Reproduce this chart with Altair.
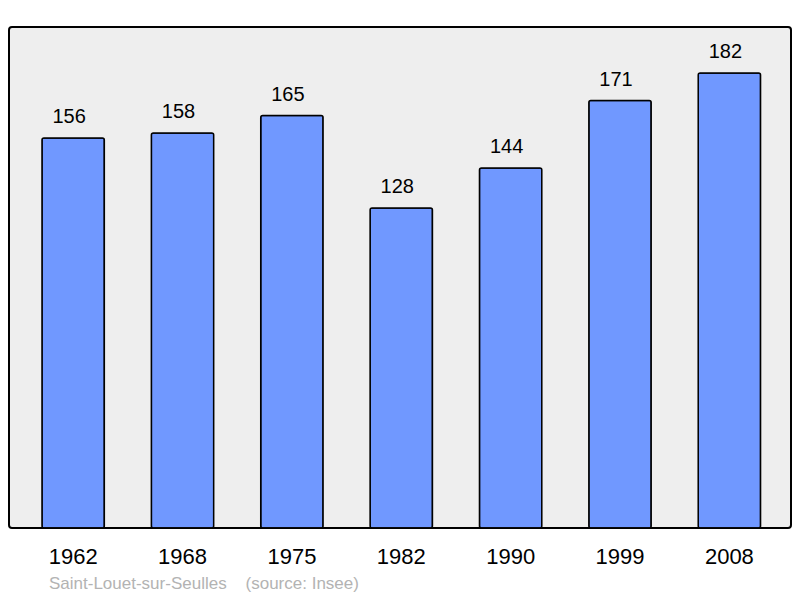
import altair as alt
import pandas as pd

years = ["1962", "1968", "1975", "1982", "1990", "1999", "2008"]
population = [156, 158, 165, 128, 144, 171, 182]
footer = "Saint-Louet-sur-Seulles\u00a0\u00a0\u00a0\u00a0(source: Insee)"

df = pd.DataFrame({"year": years, "pop": population})

FONT = "Liberation Sans"

x = alt.X(
    "year:N",
    sort=years,
    scale=alt.Scale(paddingInner=0.43, paddingOuter=0.29, align=0.52),
    axis=alt.Axis(
        title=None,
        labelAngle=0,
        domain=False,
        ticks=False,
        labelFontSize=22,
        labelFont=FONT,
        labelColor="black",
        labelBaseline="alphabetic",
        labelPadding=35,
    ),
)
y = alt.Y(
    "pop:Q",
    scale=alt.Scale(domain=[0, 200.4], nice=False),
    axis=None,
)

base = alt.Chart(df).encode(x=x, y=y)

bars = base.mark_bar(
    color="#7098ff",
    stroke="black",
    strokeWidth=1.5,
    cornerRadius=2,
)

labels = base.mark_text(
    baseline="alphabetic",
    dy=-15,
    dx=-4,
    fontSize=20,
    font=FONT,
    color="black",
).encode(text="pop:Q")

chart = (
    alt.layer(bars, labels)
    .properties(
        width=782,
        height=501,
        padding={"left": 1, "top": 19, "right": 1, "bottom": 0},
        background="white",
        title=alt.TitleParams(
            text=footer,
            orient="bottom",
            anchor="start",
            dx=40,
            offset=22,
            fontSize=17,
            fontWeight="normal",
            font=FONT,
            color="#b3b3b3",
            baseline="alphabetic",
        ),
    )
    .configure_view(
        fill="#eeeeee",
        stroke="black",
        strokeWidth=2,
        cornerRadius=3,
    )
)

chart.save("out.html", embed_options={"renderer": "svg", "actions": False})
